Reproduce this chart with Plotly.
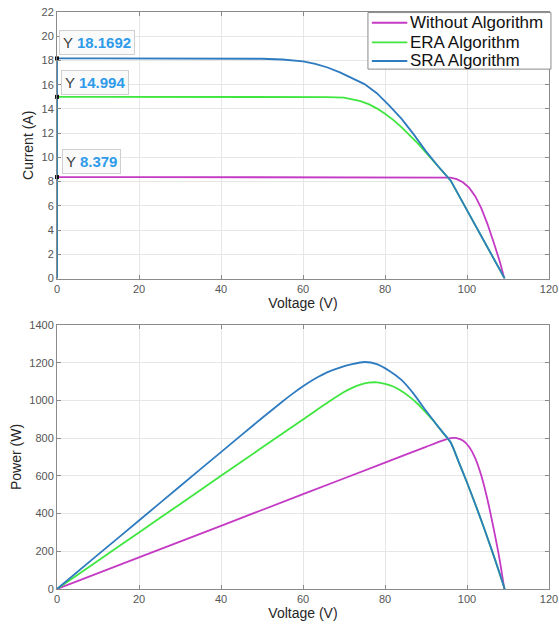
import plotly.graph_objects as go

# ---------------- data ----------------
series_names = ["Without Algorithm", "ERA Algorithm", "SRA Algorithm"]
series_colors = ["#C43AC4", "#3FE63F", "#2E7BC0"]

# I-V curves
v_iv_without = [0, 0, 20, 40, 60, 80, 90, 94, 96, 97.5, 99, 100.5, 102, 103.5, 105, 106.5, 108, 109.1]
i_iv_without = [0, 8.379, 8.379, 8.379, 8.379, 8.379, 8.378, 8.37, 8.33, 8.2, 7.95, 7.5, 6.8, 5.8, 4.5, 3.0, 1.4, 0]

v_iv_era = [0, 0, 10, 20, 30, 40, 50, 60, 66, 70, 72, 74, 76, 78, 80, 82, 84, 86, 88, 90, 92, 94, 96,
            98, 100, 102, 104, 106, 108, 109.2]
i_iv_era = [0, 14.994, 14.994, 14.994, 14.994, 14.994, 14.994, 14.99, 14.98, 14.93, 14.82, 14.65, 14.4,
            14.05, 13.6, 13.1, 12.5, 11.85, 11.15, 10.4, 9.65, 8.85, 8.1, 6.87, 5.65, 4.42, 3.2, 1.97, 0.74, 0]

v_iv_sra = [0, 0, 10, 20, 30, 40, 50, 55, 57.5, 60, 63, 66, 69, 72, 75, 78, 81, 84, 87, 90, 93, 96,
            98, 100, 102, 104, 106, 108, 109.2]
i_iv_sra = [0, 18.1692, 18.17, 18.17, 18.17, 18.16, 18.14, 18.08, 18.02, 17.92, 17.72, 17.42, 17.02,
            16.55, 16.05, 15.3, 14.3, 13.2, 11.9, 10.5, 9.25, 8.1, 6.87, 5.65, 4.42, 3.2, 1.97, 0.74, 0]

# P-V curves
v_pv_without = [0, 20, 40, 60, 80, 90, 94, 96, 97.5, 99, 100.5, 102, 103.5, 105, 106.5, 108, 109.1]
p_pv_without = [0, 168, 335, 503, 670, 754, 787, 800, 800, 787, 754, 694, 600, 473, 320, 151, 0]

v_pv_era = [0, 10, 20, 30, 40, 50, 60, 66, 70, 72, 74, 76, 78, 80, 82, 84, 86, 88, 90, 92, 94, 96,
            98, 100, 102, 104, 106, 108, 109.2]
p_pv_era = [0, 150, 300, 450, 600, 750, 899, 989, 1045, 1067, 1084, 1094, 1096, 1088, 1074, 1050, 1019,
            981, 936, 888, 832, 778, 673, 565, 451, 333, 209, 80, 0]

v_pv_sra = [0, 10, 20, 30, 40, 50, 55, 57.5, 60, 63, 66, 69, 72, 75, 78, 81, 84, 87, 90, 93, 96,
            98, 100, 102, 104, 106, 108, 109.2]
p_pv_sra = [0, 182, 363, 545, 726, 907, 994, 1036, 1075, 1116, 1150, 1174, 1192, 1204, 1193, 1158, 1109,
            1035, 945, 860, 778, 673, 565, 451, 333, 209, 80, 0]

# data tips (short-circuit currents)
tip_values = [18.1692, 14.994, 8.379]
tip_labels = ["18.1692", "14.994", "8.379"]

# ticks
x_ticks = [0, 20, 40, 60, 80, 100, 120]
i_ticks = list(range(0, 23, 2))
p_ticks = list(range(0, 1401, 200))

FONT = "Arial, Liberation Sans, sans-serif"

# ---------------- figure ----------------
fig = go.Figure()

iv_sets = [(v_iv_without, i_iv_without), (v_iv_era, i_iv_era), (v_iv_sra, i_iv_sra)]
pv_sets = [(v_pv_without, p_pv_without), (v_pv_era, p_pv_era), (v_pv_sra, p_pv_sra)]

for name, color, (vx, iy) in zip(series_names, series_colors, iv_sets):
    fig.add_trace(go.Scatter(x=vx, y=iy, mode="lines", name=name,
                             line=dict(color=color, width=1.8),
                             xaxis="x", yaxis="y", showlegend=False))

for name, color, (vx, py) in zip(series_names, series_colors, pv_sets):
    fig.add_trace(go.Scatter(x=vx, y=py, mode="lines", name=name,
                             line=dict(color=color, width=1.8, shape="spline", smoothing=0.6),
                             xaxis="x2", yaxis="y2", showlegend=False))

# data tip markers
fig.add_trace(go.Scatter(x=[0] * len(tip_values), y=tip_values, mode="markers",
                         marker=dict(color="#111111", size=4, symbol="square"),
                         xaxis="x", yaxis="y", showlegend=False, cliponaxis=False,
                         hoverinfo="skip"))

offsets = [1.3, 1.2, 1.27]
xshifts = [2, 4, 5]
for val, lab, off, xs in zip(tip_values, tip_labels, offsets, xshifts):
    fig.add_annotation(
        x=0, y=val + off, xref="x", yref="y",
        xanchor="left", yanchor="middle", xshift=xs,
        text=f"<span style='color:#404040'>Y </span><b><span style='color:#2E9BEA'>{lab}</span></b>",
        showarrow=False,
        font=dict(family=FONT, size=15),
        bgcolor="rgba(250,250,250,0.95)", bordercolor="#CFCFCF", borderwidth=1, borderpad=3,
    )

# ---- legend drawn by hand (MATLAB-like compact box) ----
leg_x0, leg_x1, leg_y0, leg_y1 = 0.632, 1.004, 0.901, 0.999
row_y = [0.9814, 0.9474, 0.9151]
fig.add_shape(type="rect", xref="paper", yref="paper", x0=leg_x0, x1=leg_x1, y0=leg_y0, y1=leg_y1,
              line=dict(color="#8A8A8A", width=1), fillcolor="white", layer="above")
for name, color, ry in zip(series_names, series_colors, row_y):
    fig.add_shape(type="line", xref="paper", yref="paper", x0=0.640, x1=0.712, y0=ry, y1=ry,
                  line=dict(color=color, width=1.8), layer="above")
    fig.add_annotation(x=0.714, y=ry, xref="paper", yref="paper", xanchor="left", yanchor="middle",
                       text=name, showarrow=False,
                       font=dict(family=FONT, size=17, color="#111111"))

axis_common = dict(
    showgrid=True, gridcolor="#E6E6E6", gridwidth=1,
    showline=True, linecolor="#8A8A8A", linewidth=1, mirror="ticks",
    ticks="inside", ticklen=4, tickcolor="#8A8A8A",
    tickfont=dict(family=FONT, size=11, color="#555555"),
    zeroline=False, automargin=False, ticklabeloverflow="allow",
)
title_font = dict(family=FONT, size=14, color="#262626")

fig.update_layout(
    width=559, height=624,
    margin=dict(l=57, r=10, t=12, b=35),
    paper_bgcolor="white", plot_bgcolor="white",
    font=dict(family=FONT),
    xaxis=dict(domain=[0, 1], range=[0, 120], tickvals=x_ticks, anchor="y",
               title=dict(text="Voltage (V)", font=title_font, standoff=2), **axis_common),
    yaxis=dict(domain=[0.538, 1], range=[0, 22], tickvals=i_ticks, anchor="x",
               title=dict(text="Current (A)", font=title_font, standoff=4), **axis_common),
    xaxis2=dict(domain=[0, 1], range=[0, 120], tickvals=x_ticks, anchor="y2",
                title=dict(text="Voltage (V)", font=title_font, standoff=2), **axis_common),
    yaxis2=dict(domain=[0, 0.4575], range=[0, 1400], tickvals=p_ticks, anchor="x2",
                title=dict(text="Power (W)", font=title_font, standoff=4), **axis_common),
    showlegend=False,
)

fig.write_html("out.html", config={"displayModeBar": False},
               post_script="document.body.style.margin='0';document.body.style.padding='0';")
